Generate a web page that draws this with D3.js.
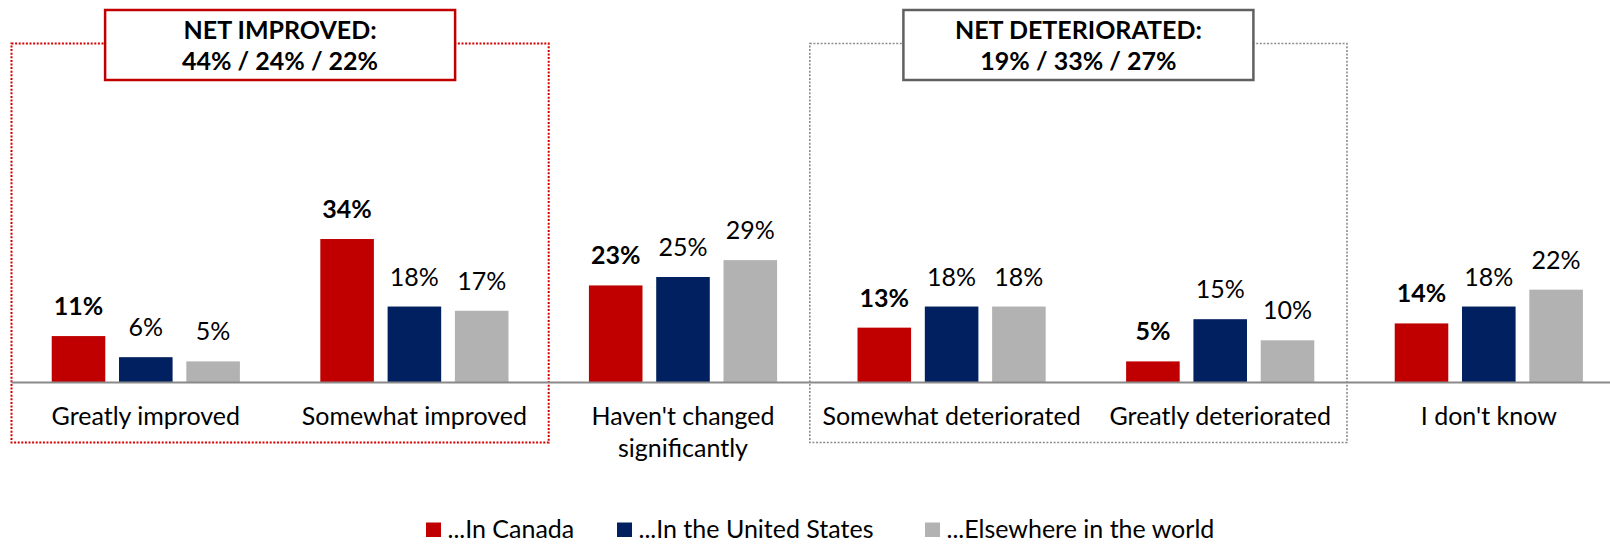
<!DOCTYPE html>
<html>
<head>
<meta charset="utf-8">
<script src="https://cdn.jsdelivr.net/npm/d3@7"></script>
<style>
    body { margin: 0; background: #fff; }
    svg { display: block; font-family: Lato, "Open Sans", sans-serif; }
</style>
</head>
<body>
<svg id="chart"></svg>
<script>
const categories = ["Greatly improved", "Somewhat improved", "Haven't changed significantly", "Somewhat deteriorated", "Greatly deteriorated", "I don't know"]
const categoryLines = [["Greatly improved"], ["Somewhat improved"], ["Haven't changed", "significantly"], ["Somewhat deteriorated"], ["Greatly deteriorated"], ["I don't know"]]
const seriesNames = ["...In Canada", "...In the United States", "...Elsewhere in the world"]
const canada = [11, 34, 23, 13, 5, 14]
const unitedStates = [6, 18, 25, 18, 15, 18]
const elsewhere = [5, 17, 29, 18, 10, 22]
const netTitles = ["NET IMPROVED:", "NET DETERIORATED:"]
const netValues = ["44% / 24% / 22%", "19% / 33% / 27%"]
const netGroups = [["Greatly improved", "Somewhat improved"], ["Somewhat deteriorated", "Greatly deteriorated"]]

const colors = ["#c00000", "#002060", "#b2b2b2"]
const boxColors = ["#c00000", "#606060"]
const dotColors = ["#d40000", "#8c8c8c"]

var width = 1610
var height = 544
var fontSize = 25

let svg = d3.select("#chart")
    .attr("width", width)
    .attr("height", height)

let series = [canada, unitedStates, elsewhere]
let data = categories.map((c, i) => ({
    category: c,
    values: seriesNames.map((s, j) => ({ series: s, index: j, value: series[j][i] }))
}))

/* Scales */
let baseline = 382.5
let x0 = d3.scaleBand()
    .domain(categories)
    .range([11.5, 11.5 + 6 * 268.6])

let x1 = d3.scaleBand()
    .domain(seriesNames)
    .range([0, 201.9])
    .paddingInner(0.204)
    .paddingOuter(0.102)

let y = d3.scaleLinear()
    .domain([0, 40])
    .range([baseline, baseline - 40 * 4.22])

let groupStart = (c) => x0(c) + x0.bandwidth() / 2 - 100.95

/* Net boxes (dotted) */
netGroups.forEach((g, i) => {
    let shift = i === 0 ? 0 : -7.5
    let left = x0(g[0]) + shift
    let right = x0(g[1]) + x0.bandwidth() + shift
    svg.append("rect")
        .attr("x", left)
        .attr("y", 43.5)
        .attr("width", right - left)
        .attr("height", 399)
        .attr("fill", "none")
        .attr("stroke", dotColors[i])
        .attr("stroke-width", i === 0 ? 2 : 1.6)
        .attr("stroke-dasharray", "2,1.6")
})

/* Bars */
let groups = svg.append("g")
    .selectAll("g")
    .data(data)
    .enter()
        .append("g")
            .attr("transform", (d) => "translate(" + groupStart(d.category) + ",0)")

groups.selectAll("rect")
    .data((d) => d.values)
    .enter()
        .append("rect")
            .attr("x", (d) => x1(d.series))
            .attr("y", (d) => y(d.value))
            .attr("width", x1.bandwidth())
            .attr("height", (d) => baseline - y(d.value))
            .attr("fill", (d) => colors[d.index])

groups.selectAll("text")
    .data((d) => d.values)
    .enter()
        .append("text")
            .attr("x", (d) => x1(d.series) + x1.bandwidth() / 2)
            .attr("y", (d) => y(d.value) - 21)
            .attr("text-anchor", "middle")
            .attr("font-size", fontSize)
            .attr("font-weight", (d) => d.index === 0 ? "bold" : "normal")
            .attr("fill", "#000")
            .text((d) => d.value + "%")

/* X axis line */
svg.append("line")
    .attr("x1", x0.range()[0])
    .attr("x2", width)
    .attr("y1", baseline)
    .attr("y2", baseline)
    .attr("stroke", "#898989")
    .attr("stroke-width", 2)

/* Category labels */
svg.append("g")
    .selectAll("text")
    .data(categories)
    .enter()
        .append("text")
            .attr("x", (d) => x0(d) + x0.bandwidth() / 2)
            .attr("y", 425)
            .attr("text-anchor", "middle")
            .attr("font-size", fontSize)
            .attr("fill", "#000")
            .each(function (d, i) {
                d3.select(this).selectAll("tspan")
                    .data(categoryLines[i])
                    .enter()
                        .append("tspan")
                            .attr("x", x0(d) + x0.bandwidth() / 2)
                            .attr("dy", (l, k) => k === 0 ? 0 : 32)
                            .text((l) => l)
            })

/* Net label boxes */
netGroups.forEach((g, i) => {
    let shift = i === 0 ? 0 : -7.5
    let cx = (x0(g[0]) + x0(g[1]) + x0.bandwidth()) / 2 + shift
    svg.append("rect")
        .attr("x", cx - 175)
        .attr("y", 10)
        .attr("width", 350)
        .attr("height", 70)
        .attr("fill", "#fff")
        .attr("stroke", boxColors[i])
        .attr("stroke-width", 2.5)
    let t = svg.append("text")
        .attr("text-anchor", "middle")
        .attr("font-size", fontSize)
        .attr("font-weight", "bold")
        .attr("fill", "#000")
    t.append("tspan").attr("x", cx).attr("y", 38.5).text(netTitles[i])
    t.append("tspan").attr("x", cx).attr("y", 69.5).text(netValues[i])
})

/* Legend */
let legendX = [426, 617, 925]
let legend = svg.append("g")
    .selectAll("g")
    .data(seriesNames)
    .enter()
        .append("g")
            .attr("transform", (d, i) => "translate(" + legendX[i] + ",0)")

legend.append("rect")
    .attr("x", 0)
    .attr("y", 522.5)
    .attr("width", 15)
    .attr("height", 14.5)
    .attr("fill", (d, i) => colors[i])

legend.append("text")
    .attr("x", 21.5)
    .attr("y", 537.5)
    .attr("font-size", fontSize)
    .attr("fill", "#000")
    .text((d) => d)
</script>
</body>
</html>
